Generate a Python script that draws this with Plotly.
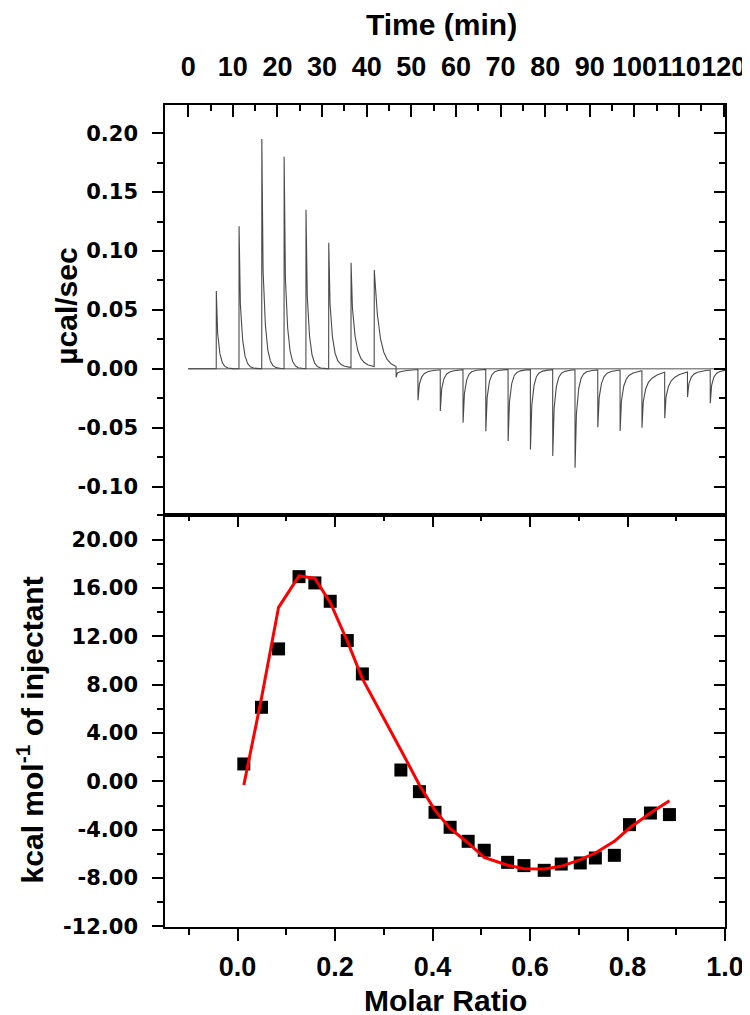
import numpy as np
import plotly.graph_objects as go

# ---------------- data ----------------
# Top panel: raw ITC thermogram, one entry per injection
inj_time = [6.3, 11.4, 16.5, 21.5, 26.4, 31.5, 36.5, 41.7,
            46.6, 51.5, 56.5, 61.6, 66.7, 71.7, 76.7, 81.7, 86.7,
            91.8, 96.8, 101.7, 106.8, 111.9, 117.0]
peak_height = [0.066, 0.121, 0.195, 0.180, 0.135, 0.107, 0.089, 0.082,
               -0.0093, -0.026, -0.035, -0.045, -0.0525, -0.0607, -0.0678,
               -0.0734, -0.0833, -0.0488, -0.0517, -0.0483, -0.039, -0.0214,
               -0.0282]
decay_min = [0.6, 0.65, 0.65, 0.65, 0.65, 0.7, 0.8, 1.1,
             0.5, 0.55, 0.55, 0.55, 0.55, 0.55, 0.55, 0.55, 0.55,
             0.6, 0.6, 0.55, 0.55, 0.55, 0.55]
spike_frac = [0.25, 0.3, 0.35, 0.35, 0.3, 0.25, 0.2, 0.0,
              0.3, 0.25, 0.25, 0.25, 0.25, 0.25, 0.25, 0.25, 0.25,
              0.25, 0.25, 0.25, 0.25, 0.25, 0.25]
tail_frac = [0.0, 0.0, 0.0, 0.0, 0.0, 0.05, 0.1, 0.05,
             0.5, 0.15, 0.1, 0.05, 0.05, 0.05, 0.05, 0.05, 0.05,
             0.1, 0.15, 0.3, 0.3, 0.15, 0.1]
run_start, run_end = 0.0, 120.3

# Bottom panel: integrated heats and fitted curve
molar_ratio = [0.0127, 0.049, 0.084, 0.126, 0.1585, 0.190, 0.225, 0.256,
               0.335, 0.373, 0.405, 0.436, 0.473, 0.506, 0.554, 0.5875,
               0.629, 0.664, 0.703, 0.734, 0.773, 0.804, 0.847, 0.886]
heat = [1.44, 6.13, 10.96, 16.94, 16.42, 14.9, 11.65, 8.89,
        0.94, -0.85, -2.56, -3.80, -4.96, -5.70, -6.70, -6.97,
        -7.36, -6.84, -6.75, -6.34, -6.12, -3.58, -2.62, -2.75]
heat_fit = [-0.3, 6.9, 14.4, 17.0, 16.8, 14.8, 11.6, 8.5,
            2.6, -0.3, -2.4, -3.9, -5.1, -6.3, -6.94, -7.22,
            -7.25, -7.03, -6.48, -5.93, -4.96, -3.86, -2.62, -1.6]

# tick values / labels
time_ticks = [0, 10, 20, 30, 40, 50, 60, 70, 80, 90, 100, 110, 120]
power_ticks = [-0.10, -0.05, 0.00, 0.05, 0.10, 0.15, 0.20]
ratio_ticks = [0.0, 0.2, 0.4, 0.6, 0.8, 1.0]
heat_ticks = [-12, -8, -4, 0, 4, 8, 12, 16, 20]
power_labels = [f"{v:.2f}" for v in power_ticks]
heat_labels = [f"{v:.2f}" for v in heat_ticks]
ratio_labels = [f"{v:.1f}" for v in ratio_ticks]
time_labels = [str(v) for v in time_ticks]

# ---------------- build thermogram trace from injection list ----------------
t = np.round(np.arange(run_start, run_end + 1e-9, 0.02), 4)
power = np.zeros_like(t)
for t0, h, tau, sp, tl in zip(inj_time, peak_height, decay_min, spike_frac, tail_frac):
    s = t - t0
    m = s >= 0
    main = 1.0 - sp - tl
    power[m] += h * (sp * np.exp(-s[m] / 0.08) + main * np.exp(-s[m] / tau)
                     + tl * np.exp(-s[m] / 3.0))

# ---------------- figure ----------------
W, H = 750, 1015
L, R, T, B = 157, 23, 97, 96
split = (919 - 507) / (H - T - B)

AX = dict(showline=True, linecolor="black", linewidth=1.5, showgrid=False,
          zeroline=False)
YT = dict(family="DejaVu Sans", size=21, color="black", weight="bold")
XT = dict(family="Liberation Sans", size=27, color="black", weight="bold")
TITLE = dict(family="Liberation Sans", size=30, color="black", weight="bold")
TK = dict(tickwidth=1.5, tickcolor="black")
MIN = dict(tickwidth=1.5, tickcolor="black", ticklen=6)

fig = go.Figure()

# baseline
fig.add_trace(go.Scatter(x=[run_start, run_end], y=[0, 0], mode="lines",
                         line=dict(color="#8a8a8a", width=1.5),
                         xaxis="x", yaxis="y", hoverinfo="skip", showlegend=False))
# thermogram
fig.add_trace(go.Scatter(x=t, y=power, mode="lines",
                         line=dict(color="#4a4a4a", width=1.1),
                         xaxis="x", yaxis="y", showlegend=False))
# integrated heats
fig.add_trace(go.Scatter(x=molar_ratio, y=heat, mode="markers",
                         marker=dict(symbol="square", size=13, color="black"),
                         xaxis="x2", yaxis="y2", showlegend=False))
# fit
fig.add_trace(go.Scatter(x=molar_ratio, y=heat_fit, mode="lines",
                         line=dict(color="#ff0000", width=3),
                         xaxis="x2", yaxis="y2", showlegend=False))
# empty traces to activate overlay axes (inside mirror ticks)
fig.add_trace(go.Scatter(x=[], y=[], xaxis="x", yaxis="y3", showlegend=False))
fig.add_trace(go.Scatter(x=[], y=[], xaxis="x3", yaxis="y4", showlegend=False))

top_rng = [-0.1242, 0.224]
bot_rng = [-12.05, 22.04]
mr_rng = [-0.149, 1.0]

fig.update_layout(
    width=W, height=H, margin=dict(l=L, r=R, t=T, b=B),
    paper_bgcolor="white", plot_bgcolor="white", showlegend=False,
    xaxis=dict(**AX, **TK, domain=[0, 1], anchor="y", side="top", mirror=True,
               range=[-5.2, 120.3], tickmode="array", tickvals=time_ticks,
               ticktext=time_labels, ticks="inside", ticklen=12, tickangle=0,
               tickfont=XT, ticklabelstandoff=16,
               minor=dict(**MIN, dtick=5, tick0=0, ticks="inside")),
    yaxis=dict(**AX, **TK, domain=[split, 1], anchor="x", mirror=True,
               range=top_rng, tickmode="array", tickvals=power_ticks,
               ticktext=power_labels, ticks="outside", ticklen=11,
               tickfont=YT, ticklabelstandoff=10,
               minor=dict(**MIN, dtick=0.025, tick0=0, ticks="outside")),
    yaxis3=dict(**TK, overlaying="y", side="right", anchor="x", range=top_rng,
                showgrid=False, zeroline=False, showline=False,
                showticklabels=False, tick0=0, dtick=0.05, ticks="inside",
                ticklen=11,
                minor=dict(**MIN, dtick=0.025, tick0=0, ticks="inside")),
    xaxis2=dict(**AX, **TK, domain=[0, 1], anchor="y2", mirror=True,
                range=mr_rng, tickmode="array", tickvals=ratio_ticks,
                ticktext=ratio_labels, ticks="outside", ticklen=12, tickangle=0,
                tickfont=XT, ticklabelstandoff=3,
                minor=dict(**MIN, dtick=0.1, tick0=0, ticks="outside")),
    xaxis3=dict(**TK, overlaying="x2", side="top", anchor="y2", range=mr_rng,
                showgrid=False, zeroline=False, showline=False,
                showticklabels=False, tick0=0, dtick=0.2, ticks="inside",
                ticklen=12,
                minor=dict(**MIN, dtick=0.1, tick0=0, ticks="inside")),
    yaxis2=dict(**AX, **TK, domain=[0, split], anchor="x2", mirror=True,
                range=bot_rng, tickmode="array", tickvals=heat_ticks,
                ticktext=heat_labels, ticks="outside", ticklen=11,
                tickfont=YT, ticklabelstandoff=10,
                minor=dict(**MIN, dtick=2, tick0=0, ticks="outside")),
    yaxis4=dict(**TK, overlaying="y2", side="right", anchor="x2", range=bot_rng,
                showgrid=False, zeroline=False, showline=False,
                showticklabels=False, tick0=0, dtick=4, ticks="inside",
                ticklen=11,
                minor=dict(**MIN, dtick=2, tick0=0, ticks="inside")),
)

pw = W - L - R
ph = H - T - B
def px(xp):
    return (xp - L) / pw
def py(yp):
    return (H - B - yp) / ph

fig.add_annotation(text="Time (min)", x=px(438), y=py(16), xref="paper", yref="paper",
                   showarrow=False, font=TITLE, xanchor="center", yanchor="middle")
fig.add_annotation(text="Molar Ratio", x=px(442), y=py(992), xref="paper", yref="paper",
                   showarrow=False, font=TITLE, xanchor="center", yanchor="middle")
fig.add_annotation(text="µcal/sec", x=px(56), y=py(298), xref="paper", yref="paper",
                   showarrow=False, font=TITLE, textangle=-90,
                   xanchor="center", yanchor="middle")
fig.add_annotation(text="kcal mol<sup>-1</sup> of injectant", x=px(20), y=py(722),
                   xref="paper", yref="paper", showarrow=False, font=TITLE,
                   textangle=-90, xanchor="center", yanchor="middle")

fig.write_html("out.html")
